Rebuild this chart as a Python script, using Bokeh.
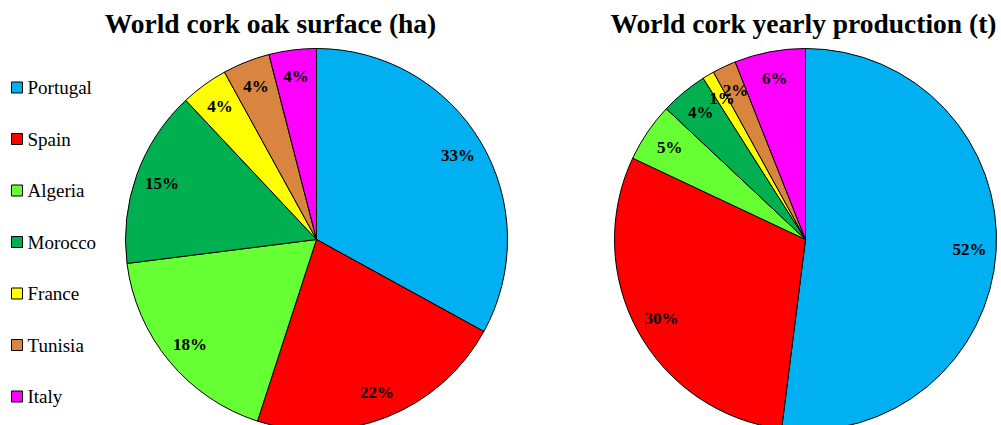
import math
from bokeh.plotting import figure
from bokeh.models import Range1d, ColumnDataSource
from bokeh.core.properties import value
from bokeh.embed import file_html
from bokeh.resources import INLINE

countries = ["Portugal", "Spain", "Algeria", "Morocco", "France", "Tunisia", "Italy"]
surface_pct = [33, 22, 18, 15, 4, 4, 4]
production_pct = [52, 30, 5, 4, 1, 2, 6]
colors = ["#00B0F0", "#FF0000", "#66FF33", "#00B050", "#FFFF00", "#D9843F", "#FF00FF"]
titles = ["World cork oak surface (ha)", "World cork yearly production (t)"]

W, H = 1001, 425
FONT = "Liberation Serif"

p = figure(width=W, height=H, output_backend="svg", toolbar_location=None,
           x_range=Range1d(0, W), y_range=Range1d(0, H),
           min_border=0, outline_line_color=None)
p.axis.visible = False
p.grid.visible = False


def pie(cx, cy, r, values, title, title_x):
    total = float(sum(values))
    starts, ends, lx, ly, labels = [], [], [], [], []
    acc = 0.0
    for v in values:
        f0 = acc / total
        acc += v
        f1 = acc / total
        starts.append(math.pi / 2 - 2 * math.pi * f0)
        ends.append(math.pi / 2 - 2 * math.pi * f1)
        mid = math.pi / 2 - 2 * math.pi * (f0 + f1) / 2
        lr = 0.86 * r
        lx.append(cx + lr * math.cos(mid))
        ly.append(cy + lr * math.sin(mid))
        labels.append(f"{v}%")
    src = ColumnDataSource(dict(start=starts, end=ends, color=colors))
    p.wedge(x=cx, y=cy, radius=r, start_angle="start", end_angle="end",
            direction="clock", fill_color="color", line_color="black",
            line_width=1, source=src)
    p.text(x=lx, y=ly, text=labels, text_align="center", text_baseline="middle",
           text_font=value(FONT), text_font_style="bold", text_font_size="17px",
           text_color="black")
    p.text(x=[title_x], y=[H - 23], text=[title], text_align="center",
           text_baseline="middle", text_font=value(FONT), text_font_style="bold",
           text_font_size="27.5px", text_color="black")


pie(316, H - 239, 191, surface_pct, titles[0], 270)
pie(805, H - 239, 191, production_pct, titles[1], 803)

# legend down the left side
ly = [H - (87 + 51.5 * i) for i in range(len(countries))]
p.rect(x=[16.5] * len(countries), y=ly, width=11, height=11,
       fill_color=colors, line_color="black", line_width=1)
p.text(x=[27] * len(countries), y=ly, text=countries, text_align="left",
       text_baseline="middle", text_font=value(FONT), text_font_size="19px",
       text_color="black")

open("out.html", "w").write(file_html(p, INLINE))
